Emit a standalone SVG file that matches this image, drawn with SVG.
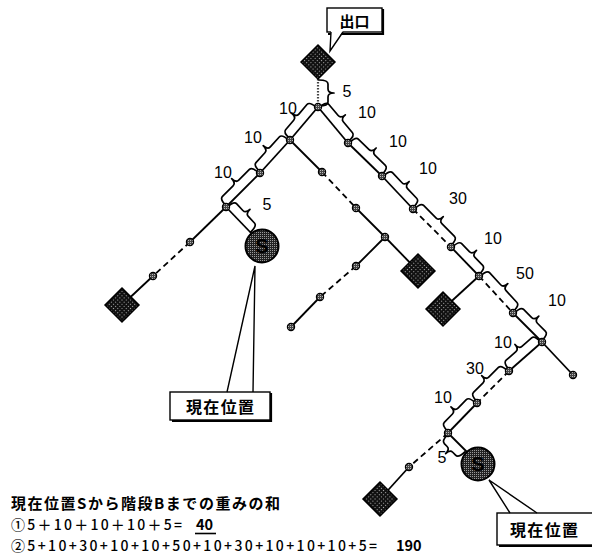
<svg xmlns="http://www.w3.org/2000/svg" width="592" height="556" viewBox="0 0 592 556">
<style>
.e{stroke:#000;stroke-width:1.8;fill:none}
.d{stroke-dasharray:6 4}
.dot{stroke-dasharray:1.5 1.5;stroke-width:2.2;stroke:#444}
.br{stroke:#000;stroke-width:1.7;fill:none;stroke-linejoin:round;stroke-linecap:round}
.w{font-family:"Liberation Sans",Arial,sans-serif;font-size:16px;text-anchor:middle;fill:#000}
.n{fill:url(#sp);stroke:#000;stroke-width:1.2}
.dia{fill:url(#dk);stroke:#000;stroke-width:1.5}
.sc{fill:url(#md);stroke:#000;stroke-width:2}
.st{font-family:"Liberation Sans",Arial,sans-serif;font-size:20px;font-weight:bold;text-anchor:middle;fill:#000}
.jp{font-family:"Noto Sans CJK JP","Noto Sans CJK SC",sans-serif;fill:#000}
.box{fill:#fff;stroke:#000;stroke-width:1.4}
.sh{fill:none;stroke:#000;stroke-width:2.2}
.cl{fill:#fff;stroke:none}
.ln{stroke:#000;stroke-width:1.4;fill:none}
</style>
<defs>
<pattern id="dk" width="3" height="3" patternUnits="userSpaceOnUse"><rect width="3" height="3" fill="#111"/><rect x="1" y="1" width="1" height="1" fill="#aaa"/></pattern>
<pattern id="md" width="2" height="2" patternUnits="userSpaceOnUse"><rect width="2" height="2" fill="#222"/><rect width="1" height="1" fill="#999"/></pattern>
<pattern id="sp" width="2" height="2" patternUnits="userSpaceOnUse"><rect width="2" height="2" fill="#444"/><rect width="1" height="1" fill="#bbb"/></pattern>
</defs>

<g id="connectors">
<line class="e dot" x1="318" y1="79" x2="318" y2="107"/>
<line class="e" x1="318" y1="107" x2="290" y2="140"/>
<line class="e" x1="290" y1="140" x2="260" y2="173"/>
<line class="e" x1="260" y1="173" x2="226" y2="207"/>
<line class="e" x1="226" y1="207" x2="190" y2="242"/>
<line class="e d" x1="190" y1="242" x2="153" y2="276"/>
<line class="e" x1="153" y1="276" x2="122" y2="305"/>
<line class="e" x1="226" y1="207" x2="252" y2="234"/>
<line class="e" x1="290" y1="140" x2="322" y2="172"/>
<line class="e d" x1="322" y1="172" x2="356" y2="208"/>
<line class="e" x1="356" y1="208" x2="385" y2="237"/>
<line class="e" x1="385" y1="237" x2="418" y2="271"/>
<line class="e" x1="385" y1="237" x2="356" y2="266"/>
<line class="e d" x1="356" y1="266" x2="320" y2="297"/>
<line class="e" x1="320" y1="297" x2="291" y2="327"/>
<line class="e" x1="318" y1="107" x2="348" y2="143"/>
<line class="e" x1="348" y1="143" x2="382" y2="176"/>
<line class="e" x1="382" y1="176" x2="413" y2="209"/>
<line class="e d" x1="413" y1="209" x2="451" y2="247"/>
<line class="e" x1="451" y1="247" x2="479" y2="276"/>
<line class="e d" x1="479" y1="276" x2="513" y2="313"/>
<line class="e" x1="513" y1="313" x2="542" y2="342"/>
<line class="e" x1="542" y1="342" x2="573" y2="375"/>
<line class="e" x1="479" y1="276" x2="443" y2="309"/>
<line class="e" x1="542" y1="342" x2="509" y2="371"/>
<line class="e d" x1="509" y1="371" x2="477" y2="403"/>
<line class="e" x1="477" y1="403" x2="448" y2="433"/>
<line class="e d" x1="448" y1="433" x2="409" y2="467"/>
<line class="e" x1="409" y1="467" x2="380" y2="499"/>
<line class="e" x1="448" y1="433" x2="467" y2="452"/>
</g>

<g id="weights">
<path class="br" transform="translate(318,79) rotate(90)" d="M1,-1 Q1,-10 5,-10 H10 Q14,-10 14,-16 Q14,-10 18,-10 H23 Q27,-10 27,-1"/>
<path class="br" transform="translate(290,140) rotate(-49.7)" d="M1,-1 Q1,-10 5,-10 H17.5 Q21.5,-10 21.5,-16 Q21.5,-10 25.5,-10 H38 Q42,-10 42,-1"/>
<path class="br" transform="translate(260,173) rotate(-47.7)" d="M1,-1 Q1,-10 5,-10 H18.3 Q22.3,-10 22.3,-16 Q22.3,-10 26.3,-10 H39.6 Q43.6,-10 43.6,-1"/>
<path class="br" transform="translate(226,207) rotate(-45)" d="M1,-1 Q1,-10 5,-10 H20 Q24,-10 24,-16 Q24,-10 28,-10 H43.1 Q47.1,-10 47.1,-1"/>
<path class="br" transform="translate(226,207) rotate(47.2)" d="M1,-1 Q1,-10 5,-10 H14 Q18,-10 18,-16 Q18,-10 22,-10 H31.1 Q35.1,-10 35.1,-1"/>
<path class="br" transform="translate(318,107) rotate(50.2)" d="M1,-1 Q1,-10 5,-10 H19.5 Q23.5,-10 23.5,-16 Q23.5,-10 27.5,-10 H41.9 Q45.9,-10 45.9,-1"/>
<path class="br" transform="translate(348,143) rotate(44.1)" d="M1,-1 Q1,-10 5,-10 H19.7 Q23.7,-10 23.7,-16 Q23.7,-10 27.7,-10 H42.4 Q46.4,-10 46.4,-1"/>
<path class="br" transform="translate(382,176) rotate(46.8)" d="M1,-1 Q1,-10 5,-10 H18.6 Q22.6,-10 22.6,-16 Q22.6,-10 26.6,-10 H40.3 Q44.3,-10 44.3,-1"/>
<path class="br" transform="translate(413,209) rotate(45)" d="M1,-1 Q1,-10 5,-10 H22.8 Q26.8,-10 26.8,-16 Q26.8,-10 30.8,-10 H48.7 Q52.7,-10 52.7,-1"/>
<path class="br" transform="translate(451,247) rotate(46)" d="M1,-1 Q1,-10 5,-10 H16.1 Q20.1,-10 20.1,-16 Q20.1,-10 24.1,-10 H35.3 Q39.3,-10 39.3,-1"/>
<path class="br" transform="translate(479,276) rotate(47.4)" d="M1,-1 Q1,-10 5,-10 H21.1 Q25.1,-10 25.1,-16 Q25.1,-10 29.1,-10 H45.2 Q49.2,-10 49.2,-1"/>
<path class="br" transform="translate(513,313) rotate(45)" d="M1,-1 Q1,-10 5,-10 H16.5 Q20.5,-10 20.5,-16 Q20.5,-10 24.5,-10 H36 Q40,-10 40,-1"/>
<path class="br" transform="translate(509,371) rotate(-41.3)" d="M1,-1 Q1,-10 5,-10 H18 Q22,-10 22,-16 Q22,-10 26,-10 H38.9 Q42.9,-10 42.9,-1"/>
<path class="br" transform="translate(477,403) rotate(-45)" d="M1,-1 Q1,-10 5,-10 H18.6 Q22.6,-10 22.6,-16 Q22.6,-10 26.6,-10 H40.3 Q44.3,-10 44.3,-1"/>
<path class="br" transform="translate(448,433) rotate(-46)" d="M1,-1 Q1,-10 5,-10 H16.8 Q20.8,-10 20.8,-16 Q20.8,-10 24.8,-10 H36.7 Q40.7,-10 40.7,-1"/>
<path class="br" transform="translate(448,433) rotate(45.9)" d="M1,1 Q1,10 5,10 H9.1 Q13.1,10 13.1,16 Q13.1,10 17.1,10 H21.2 Q25.2,10 25.2,1"/>
<text class="w" x="347" y="97">5</text>
<text class="w" x="288" y="114">10</text>
<text class="w" x="253" y="143">10</text>
<text class="w" x="223" y="178">10</text>
<text class="w" x="267" y="210">5</text>
<text class="w" x="367" y="118">10</text>
<text class="w" x="398" y="147">10</text>
<text class="w" x="428" y="174">10</text>
<text class="w" x="458" y="204">30</text>
<text class="w" x="493" y="244">10</text>
<text class="w" x="525" y="279">50</text>
<text class="w" x="557" y="306">10</text>
<text class="w" x="503" y="348">10</text>
<text class="w" x="475" y="374">30</text>
<text class="w" x="443" y="403">10</text>
<text class="w" x="442" y="463">5</text>
</g>

<g id="exit"><rect class="dia" x="306" y="50" width="24" height="24" transform="rotate(45 318 62)"/></g>
<g id="stair1"><rect class="dia" x="110" y="293" width="24" height="24" transform="rotate(45 122 305)"/></g>
<g id="stair2"><rect class="dia" x="406" y="259" width="24" height="24" transform="rotate(45 418 271)"/></g>
<g id="stair3"><rect class="dia" x="431" y="297" width="24" height="24" transform="rotate(45 443 309)"/></g>
<g id="stair4"><rect class="dia" x="368" y="487" width="24" height="24" transform="rotate(45 380 499)"/></g>

<g id="start1"><circle class="sc" cx="262" cy="246" r="16.5"/><text class="st" x="262" y="253">S</text></g>
<g id="start2"><circle class="sc" cx="478" cy="464" r="16.5"/><text class="st" x="478" y="471">S</text></g>

<g id="n-r0"><circle class="n" cx="318" cy="107" r="3.6"/></g>
<g id="n-l1"><circle class="n" cx="290" cy="140" r="3.6"/></g>
<g id="n-l2"><circle class="n" cx="260" cy="173" r="3.6"/></g>
<g id="n-l3"><circle class="n" cx="226" cy="207" r="3.6"/></g>
<g id="n-l4"><circle class="n" cx="190" cy="242" r="3.6"/></g>
<g id="n-l5"><circle class="n" cx="153" cy="276" r="3.6"/></g>
<g id="n-m1"><circle class="n" cx="322" cy="172" r="3.6"/></g>
<g id="n-m2"><circle class="n" cx="356" cy="208" r="3.6"/></g>
<g id="n-m3"><circle class="n" cx="385" cy="237" r="3.6"/></g>
<g id="n-m4"><circle class="n" cx="356" cy="266" r="3.6"/></g>
<g id="n-m5"><circle class="n" cx="320" cy="297" r="3.6"/></g>
<g id="n-m6"><circle class="n" cx="291" cy="327" r="3.6"/></g>
<g id="n-r1"><circle class="n" cx="348" cy="143" r="3.6"/></g>
<g id="n-r2"><circle class="n" cx="382" cy="176" r="3.6"/></g>
<g id="n-r3"><circle class="n" cx="413" cy="209" r="3.6"/></g>
<g id="n-r4"><circle class="n" cx="451" cy="247" r="3.6"/></g>
<g id="n-r5"><circle class="n" cx="479" cy="276" r="3.6"/></g>
<g id="n-r6"><circle class="n" cx="513" cy="313" r="3.6"/></g>
<g id="n-r7"><circle class="n" cx="542" cy="342" r="3.6"/></g>
<g id="n-r8"><circle class="n" cx="573" cy="375" r="3.6"/></g>
<g id="n-b1"><circle class="n" cx="509" cy="371" r="3.6"/></g>
<g id="n-b2"><circle class="n" cx="477" cy="403" r="3.6"/></g>
<g id="n-b3"><circle class="n" cx="448" cy="433" r="3.6"/></g>
<g id="n-b4"><circle class="n" cx="409" cy="467" r="3.6"/></g>

<g id="callout-exit">
<polyline class="sh" points="383,9 383,34 328,34"/>
<rect class="box" x="327" y="8" width="55" height="24"/>
<polygon class="cl" points="331,31 343,31 330,51"/>
<polyline class="ln" points="331,32 330,51 343,32"/>
<text class="jp" x="354.5" y="27" font-size="15" font-weight="bold" text-anchor="middle">出口</text>
</g>

<g id="callout-s1">
<polyline class="sh" points="271,393 271,421 172,421"/>
<rect class="box" x="170" y="392" width="100" height="28"/>
<polygon class="cl" points="228,391 252,391 255,266"/>
<polyline class="ln" points="227,392 255,266 253,392"/>
<text class="jp" x="220" y="413" font-size="16" font-weight="bold" text-anchor="middle" textLength="68">現在位置</text>
</g>

<g id="callout-s2">
<polyline class="sh" points="499,546 600,546"/>
<rect class="box" x="497" y="513" width="110" height="32"/>
<polygon class="cl" points="511,512 536,512 490,480"/>
<polyline class="ln" points="510,513 489,480 537,513"/>
<text class="jp" x="544" y="536" font-size="16" font-weight="bold" text-anchor="middle" textLength="68">現在位置</text>
</g>

<g id="summary">
<text class="jp" x="11" y="509" font-size="15" font-weight="bold" textLength="269">現在位置Sから階段Bまでの重みの和</text>
<text class="jp" x="11" y="530" font-size="14" font-weight="500" textLength="171">①5＋10＋10＋10＋5=</text>
<text class="jp" x="196" y="530" font-size="14.5" font-weight="bold">40</text>
<line x1="195" y1="533.5" x2="216" y2="533.5" stroke="#000" stroke-width="1.6"/>
<text class="jp" x="11" y="551" font-size="14" font-weight="500" textLength="366">②5+10+30+10+10+50+10+30+10+10+10+5=</text>
<text class="jp" x="396" y="551" font-size="14.5" font-weight="bold">190</text>
</g>
</svg>
